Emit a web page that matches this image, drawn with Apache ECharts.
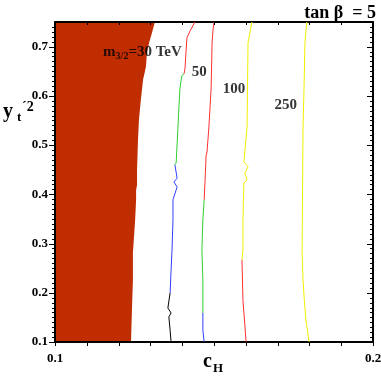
<!DOCTYPE html>
<html>
<head>
<meta charset="utf-8">
<script src="https://cdn.jsdelivr.net/npm/echarts@6/dist/echarts.min.js"></script>
<style>
html, body { margin: 0; padding: 0; background: #fff; }
#chart { width: 381px; height: 382px; }
</style>
</head>
<body>
<div id="chart"></div>
<script>
// right edge of the excluded (filled) region, [c_H, y_t'^2]
var excludedEdge = [[0.1314,0.750],[0.1305,0.728],[0.1296,0.708],[0.1289,0.687],[0.1286,0.659],[0.1277,0.633],
    [0.1270,0.592],[0.1264,0.551],[0.1261,0.511],[0.1258,0.450],[0.1258,0.419],[0.1255,0.409],[0.1255,0.389],
    [0.1252,0.348],[0.1245,0.281],[0.1245,0.226],[0.1242,0.165],[0.1239,0.100]];

// m_3/2 = 30 TeV contour, in its coloured pieces
var c30Red = [[0.1440,0.750],[0.1425,0.732],[0.1415,0.718],[0.1412,0.691],[0.1409,0.657],[0.1406,0.645]];
var c30Green = [[0.1406,0.645],[0.1399,0.641],[0.1393,0.616],[0.1390,0.582],[0.1387,0.541],[0.1381,0.464],[0.1377,0.460]];
var c30Blue = [[0.1377,0.460],[0.1377,0.456],[0.1384,0.433],[0.1374,0.425],[0.1384,0.415],[0.1371,0.389],
    [0.1371,0.348],[0.1368,0.287],[0.1365,0.246],[0.1362,0.200]];
var c30Black = [[0.1362,0.200],[0.1355,0.169],[0.1365,0.159],[0.1358,0.151],[0.1362,0.124],[0.1365,0.100]];

// 50 TeV
var c50Red = [[0.1500,0.750],[0.1497,0.734],[0.1494,0.708],[0.1491,0.616],[0.1484,0.537],[0.1481,0.511],
    [0.1478,0.486],[0.1475,0.478],[0.1472,0.429],[0.1469,0.389]];
var c50Green = [[0.1469,0.389],[0.1465,0.348],[0.1462,0.287],[0.1465,0.226],[0.1465,0.159]];
var c50Blue = [[0.1465,0.159],[0.1465,0.124],[0.1469,0.100]];

// 100 TeV
var c100Yellow = [[0.1619,0.750],[0.1613,0.728],[0.1607,0.708],[0.1604,0.537],[0.1594,0.466],[0.1607,0.456],
    [0.1597,0.443],[0.1604,0.429],[0.1594,0.423],[0.1591,0.348],[0.1591,0.287],[0.1588,0.267]];
var c100Red = [[0.1588,0.267],[0.1591,0.185],[0.1601,0.100]];

// 250 TeV
var c250Yellow = [[0.1792,0.750],[0.1786,0.708],[0.1783,0.612],[0.1780,0.537],[0.1777,0.281],[0.1780,0.226],
    [0.1784,0.185],[0.1789,0.145],[0.1799,0.100]];

// contour labels and where they sit
var labelText = ['{m|m}{s|3/2}{m|=30 TeV}', '50', '100', '250'];
var labelAt = [[0.1275,0.689],[0.1454,0.649],[0.1563,0.614],[0.1726,0.582]];

// tick marks (the axis ticks would not render in v6 here, so they are drawn as a series)
var xTicks = [0.10, 0.11, 0.12, 0.13, 0.14, 0.15, 0.16, 0.17, 0.18, 0.19, 0.20];
var yMajorTicks = [0.1, 0.2, 0.3, 0.4, 0.5, 0.6, 0.7];
var yMinorTicks = [0.11, 0.12, 0.13, 0.14, 0.15, 0.16, 0.17, 0.18, 0.19,
    0.21, 0.22, 0.23, 0.24, 0.25, 0.26, 0.27, 0.28, 0.29,
    0.31, 0.32, 0.33, 0.34, 0.35, 0.36, 0.37, 0.38, 0.39,
    0.41, 0.42, 0.43, 0.44, 0.45, 0.46, 0.47, 0.48, 0.49,
    0.51, 0.52, 0.53, 0.54, 0.55, 0.56, 0.57, 0.58, 0.59,
    0.61, 0.62, 0.63, 0.64, 0.65, 0.66, 0.67, 0.68, 0.69,
    0.71, 0.72, 0.73, 0.74];

var serif = '"Liberation Serif", "DejaVu Serif", serif';

var chart = echarts.init(document.getElementById('chart'));

function contour(data, color) {
    return {
        type: 'line',
        data: data,
        showSymbol: false,
        symbol: 'none',
        silent: true,
        z: 3,
        lineStyle: { color: color, width: 1 }
    };
}

// one tick series: vals along the axis, drawn from the edge point by (dx, dy) per unit length
function ticks(vals, horizontal, edge, dx, dy, len) {
    return {
        type: 'custom',
        silent: true,
        clip: false,
        z: 6,
        data: vals.map(function (v) { return [v]; }),
        renderItem: function (params, api) {
            var v = api.value(0);
            var p = horizontal ? api.coord([v, edge]) : api.coord([edge, v]);
            var x = Math.round(p[0]) + (horizontal ? 0.5 : 0);
            var y = Math.round(p[1]) + (horizontal ? 0 : 0.5);
            return {
                type: 'line',
                shape: { x1: x, y1: y, x2: x + dx * len, y2: y + dy * len },
                style: { stroke: '#000', lineWidth: 1 }
            };
        }
    };
}

var bottomX = {
    type: 'value', min: 0.1, max: 0.2, interval: 0.01,
    splitLine: { show: false },
    axisLine: { show: true, lineStyle: { color: '#000', width: 2 } },
    axisTick: { show: false },
    axisLabel: {
        margin: 10, color: '#000', fontFamily: serif, fontWeight: 'bold', fontSize: 13,
        formatter: function (v) {
            return (Math.abs(v - 0.1) < 1e-6 || Math.abs(v - 0.2) < 1e-6) ? v.toFixed(1) : '';
        }
    }
};
var topX = {
    type: 'value', position: 'top', min: 0.1, max: 0.2, interval: 0.01,
    splitLine: { show: false },
    axisLine: { show: true, lineStyle: { color: '#000', width: 2 } },
    axisTick: { show: false },
    axisLabel: { show: false }
};
var leftY = {
    type: 'value', min: 0.1, max: 0.75, interval: 0.1,
    splitLine: { show: false },
    axisLine: { show: true, lineStyle: { color: '#000', width: 2 } },
    axisTick: { show: false },
    axisLabel: {
        margin: 7, color: '#000', fontFamily: serif, fontWeight: 'bold', fontSize: 13,
        formatter: function (v) {
            return Math.abs(v * 10 - Math.round(v * 10)) < 1e-6 ? v.toFixed(1) : '';
        }
    }
};
var rightY = {
    type: 'value', position: 'right', min: 0.1, max: 0.75, interval: 0.1,
    splitLine: { show: false },
    axisLine: { show: true, lineStyle: { color: '#000', width: 2 } },
    axisTick: { show: false },
    axisLabel: { show: false }
};

function txt(s, x, y, size) {
    return {
        type: 'text', x: x, y: y, z: 20,
        style: { text: s, fill: '#000', font: 'bold ' + size + 'px ' + serif, align: 'left', verticalAlign: 'middle' }
    };
}

var option = {
    animation: false,
    backgroundColor: '#fff',
    title: {
        text: 'tan \u03b2  = 5',
        right: 0, top: -1,
        textStyle: { fontFamily: serif, fontWeight: 'bold', fontSize: 18, color: '#000' }
    },
    grid: { left: 55, right: 8, top: 22, bottom: 40, outerBoundsMode: 'none' },
    xAxis: [bottomX, topX],
    yAxis: [leftY, rightY],
    graphic: [
        // axis titles: y_t'^2 and c_H
        txt('y', 3, 112, 20),
        txt('t', 17, 118, 13),
        txt('\u00b42', 22, 107, 14),
        txt('c', 203, 362, 20),
        txt('H', 213, 369, 13)
    ],
    series: [
        {
            // excluded region, filled from the left edge to the boundary
            type: 'custom',
            silent: true,
            clip: true,
            z: -1,
            data: [[0.1, 0.1]],
            renderItem: function (params, api) {
                var pts = [api.coord([0.1, 0.75])];
                excludedEdge.forEach(function (p) { pts.push(api.coord(p)); });
                pts.push(api.coord([0.1, 0.1]));
                return { type: 'polygon', shape: { points: pts }, style: { fill: '#bf2d00' } };
            }
        },
        contour(c30Red, '#ff3030'),
        contour(c30Green, '#30d030'),
        contour(c30Blue, '#3040ff'),
        contour(c30Black, '#000000'),
        contour(c50Red, '#ff3030'),
        contour(c50Green, '#30d030'),
        contour(c50Blue, '#3040ff'),
        contour(c100Yellow, '#f0f000'),
        contour(c100Red, '#ff3030'),
        contour(c250Yellow, '#f0f000'),
        // frame ticks: bottom outward, top inward, left outward, right inward
        ticks(xTicks, true, 0.1, 0, 1, 4),
        ticks(xTicks, true, 0.75, 0, 1, 3),
        ticks(yMajorTicks, false, 0.1, -1, 0, 6),
        ticks(yMinorTicks, false, 0.1, -1, 0, 3),
        ticks(yMajorTicks, false, 0.2, -1, 0, 6),
        ticks(yMinorTicks, false, 0.2, -1, 0, 3),
        {
            type: 'scatter',
            silent: true,
            z: 5,
            symbolSize: 1,
            itemStyle: { color: 'rgba(0,0,0,0)' },
            data: labelAt.map(function (p, i) { return { value: p, name: labelText[i] }; }),
            label: {
                show: true, position: 'inside', formatter: '{b}',
                fontFamily: serif, fontWeight: 'bold', fontSize: 15, color: '#000',
                rich: {
                    m: { fontFamily: serif, fontWeight: 'bold', fontSize: 15, color: '#000' },
                    s: { fontFamily: serif, fontWeight: 'bold', fontSize: 10, color: '#000', padding: [8, 0, 0, 0] }
                }
            }
        }
    ]
};

chart.setOption(option);
</script>
</body>
</html>
